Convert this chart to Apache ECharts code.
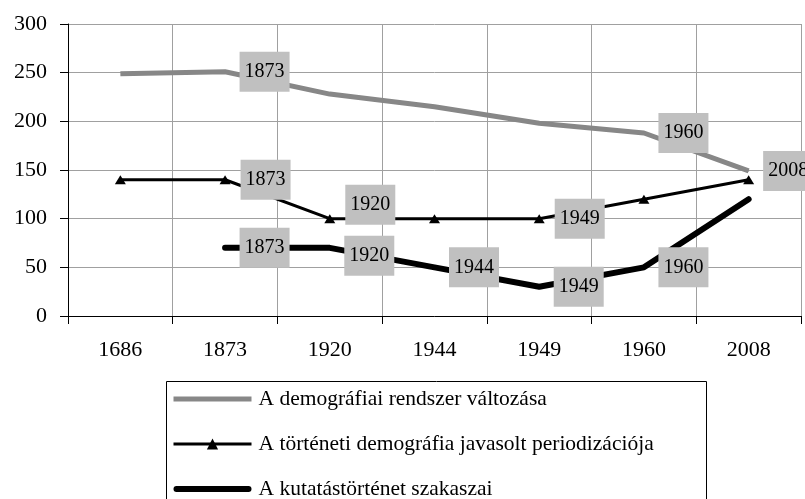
<!DOCTYPE html>
<html>
<head>
<meta charset="utf-8">
<script src="https://cdn.jsdelivr.net/npm/echarts@6/dist/echarts.min.js"></script>
<style>
  html, body { margin: 0; padding: 0; background: #fff; }
  #chart { width: 805px; height: 499px; }
</style>
</head>
<body>
<div id="chart"></div>
<script>
// kategóriák (x tengely)
const years = ["1686", "1873", "1920", "1944", "1949", "1960", "2008"];
const seriesNames = [
  "A demográfiai rendszer változása",
  "A történeti demográfia javasolt periodizációja",
  "A kutatástörténet szakaszai"
];
// értékek
const demografia = [249, 251, 228, 215, 198, 188, 149];
const periodizacio = [140, 140, 100, 100, 100, 120, 140];
const kutatas = [null, 70, 70, 50, 30, 50, 120];
// mely pontoknál van címke
const demografiaLabels = [1, 5, 6];
const periodizacioLabels = [1, 2, 4];
const kutatasLabels = [1, 2, 3, 4, 5];

const FONT = "Liberation Serif";

const labelBox = {
  position: "right",
  formatter: "{b}",
  fontFamily: FONT,
  fontSize: 20,
  lineHeight: 20,
  color: "#000",
  backgroundColor: "#c0c0c0",
  padding: [10, 5]
};

// egyes címkék kézzel odébb tolva, mint az eredetin
const labelShift = {
  periodizacio: { 2: [0, -14] },
  kutatas: { 2: [0, 8] }
};

// a címkés pontok kapnak egy láthatatlan szimbólumot, hogy a címke megjelenjen
function buildData(values, labelIdx, shifts, dist, keepSymbol) {
  return values.map((v, i) => {
    const item = { value: v };
    if (labelIdx.indexOf(i) >= 0) {
      item.label = Object.assign({}, labelBox, { show: true, distance: dist });
      if (shifts && shifts[i]) item.label.offset = shifts[i];
      if (!keepSymbol) {
        item.symbol = "circle";
        item.symbolSize = 1;
      }
    }
    return item;
  });
}

// sima vonal ikon a jelmagyarázatba (kör nélkül)
const barIcon5 = "path://M0,0L78,0L78,5L0,5Z";
const barIcon6 = "path://M3,0L75,0A3,3 0 0 1 75,6L3,6A3,3 0 0 1 3,0Z";

const chart = echarts.init(document.getElementById("chart"), null, { renderer: "canvas" });

const option = {
  animation: false,
  textStyle: { fontFamily: FONT },
  grid: { left: 68, right: 4, top: 24, bottom: 183, containLabel: false },
  xAxis: {
    type: "category",
    data: years,
    boundaryGap: true,
    axisLine: { lineStyle: { color: "#000", width: 1 } },
    axisTick: { show: true, length: 8, lineStyle: { color: "#000" } },
    axisLabel: { color: "#000", fontFamily: FONT, fontSize: 22, margin: 23 },
    splitLine: { show: true, lineStyle: { color: "#a0a0a0", width: 1 } }
  },
  yAxis: {
    type: "value",
    min: 0,
    max: 300,
    interval: 50,
    axisLine: { show: true, lineStyle: { color: "#000", width: 1 } },
    axisTick: { show: true, length: 8, lineStyle: { color: "#000" } },
    axisLabel: { color: "#000", fontFamily: FONT, fontSize: 22, margin: 21 },
    splitLine: { show: true, lineStyle: { color: "#a0a0a0", width: 1 } }
  },
  legend: {
    orient: "vertical",
    left: 164,
    top: 379,
    height: 140,
    padding: [9, 8, 0, 8],
    itemWidth: 78,
    itemHeight: 14,
    itemGap: 23,
    borderWidth: 0,
    symbolKeepAspect: true,
    textStyle: { color: "#000", fontFamily: FONT, fontSize: 21.5, lineHeight: 22, padding: [0, 0, 0, 2] },
    data: [
      { name: seriesNames[0], icon: barIcon5 },
      { name: seriesNames[1], lineStyle: { width: 3 } },
      { name: seriesNames[2], icon: barIcon6 }
    ]
  },
  // jelmagyarázat kerete (alul kilóg a képből, mint az eredetin)
  graphic: [{
    type: "rect",
    left: 164,
    top: 379,
    shape: { width: 540, height: 140 },
    style: { fill: "none", stroke: "#000", lineWidth: 1 },
    silent: true
  }],
  series: [
    {
      name: seriesNames[0],
      type: "line",
      data: buildData(demografia, demografiaLabels, null, 14, false),
      symbol: "none",
      lineStyle: { color: "#878787", width: 5 },
      itemStyle: { color: "#878787" },
      z: 2
    },
    {
      name: seriesNames[1],
      type: "line",
      data: buildData(periodizacio, periodizacioLabels, labelShift.periodizacio, 10, true),
      symbol: "triangle",
      symbolSize: [11, 9],
      lineStyle: { color: "#000", width: 3 },
      itemStyle: { color: "#000" },
      z: 3
    },
    {
      name: seriesNames[2],
      type: "line",
      data: buildData(kutatas, kutatasLabels, labelShift.kutatas, 14, false),
      symbol: "none",
      lineStyle: { color: "#000", width: 6, cap: "round" },
      itemStyle: { color: "#000" },
      z: 4
    }
  ]
};

chart.setOption(option);
</script>
</body>
</html>
